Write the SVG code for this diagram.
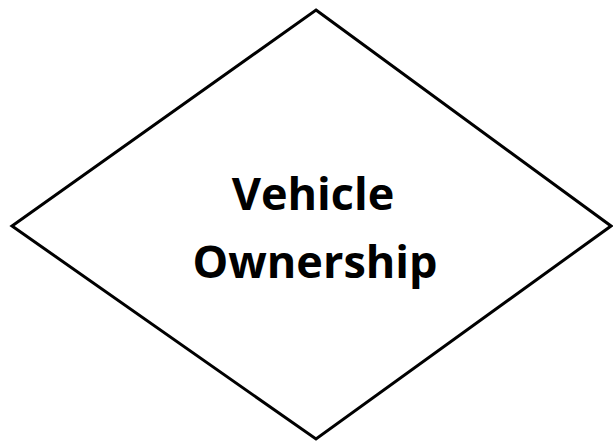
<svg xmlns="http://www.w3.org/2000/svg" width="613" height="443" viewBox="0 0 613 443">
<style>
.shape{fill:#fff;stroke:#000;stroke-width:3;stroke-linejoin:miter}
.lbl{font-family:"Open Sans","Liberation Sans",sans-serif;font-weight:bold;font-size:45px;fill:#000;text-anchor:middle}
</style>
<rect width="613" height="443" fill="#fff"/>
<g id="vehicle-ownership">
<polygon class="shape" points="316,10 611,226 316,439 12,226"/>
<text class="lbl" x="313" y="210">Vehicle</text>
<text class="lbl" x="315" y="278">Ownership</text>
</g>
<g id="connectors"/>
</svg>
